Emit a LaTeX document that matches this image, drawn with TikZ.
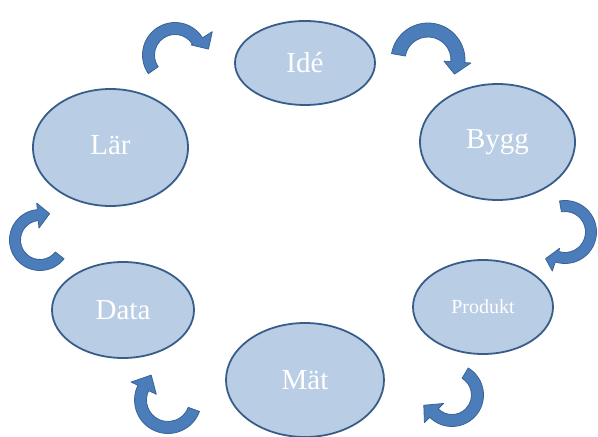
\documentclass[tikz,border=0pt]{standalone}
\usepackage{fontspec}
\setmainfont{Liberation Serif}
\usetikzlibrary{shapes.geometric}
\definecolor{ellfill}{HTML}{B9CDE5}
\definecolor{elldraw}{HTML}{385D8A}
\definecolor{arrfill}{HTML}{4A7DBA}
\definecolor{arrdraw}{HTML}{3A6394}
\tikzset{
  stage/.style={ellipse, draw=elldraw, fill=ellfill, line width=1.8pt, inner sep=0pt,
    text=white, font=\fontsize{29}{32}\selectfont},
  arrowshape/.style={fill=arrfill, draw=arrdraw, line width=0.8pt, line join=round},
}
\newcommand{\blockarc}[8]{%
  \begin{scope}[shift={#1}]
    \filldraw[arrowshape] (#4:#3) arc[start angle=#4, end angle=#5, radius=#3]
      -- (#5:#7) -- #8 -- (#5:#6) -- (#5:#2)
      arc[start angle=#5, end angle=#4, radius=#2] -- cycle;
  \end{scope}}
\begin{document}
\begin{tikzpicture}[x=1pt, y=1pt]
\useasboundingbox (0,0) rectangle (598,437);
% ellipses (y = 437 - image y)
\node[stage, minimum width=140, minimum height=84] (ide) at (305,374) {Idé};
\node[stage, minimum width=155, minimum height=116] (bygg) at (497.5,295) {Bygg};
\node[stage, minimum width=140, minimum height=94, font=\fontsize{20}{24}\selectfont] (produkt) at (483,130) {Produkt};
\node[stage, minimum width=158, minimum height=114] (mat) at (305,57) {Mät};
\node[stage, minimum width=142, minimum height=96] (data) at (123,127) {Data};
\node[stage, minimum width=155, minimum height=117] (lar) at (110.5,289.5) {\raisebox{4pt}{Lär}};
% curved block arrows
\blockarc{(175,382)}{20.5}{32.5}{215}{32}{19}{44}{(10:34)}
\blockarc{(428,377)}{23}{37}{170}{-4}{16}{43}{(-28:30)}
\blockarc{(565,205)}{20.5}{31.5}{100}{-108}{17}{41}{(-126:33)}
\blockarc{(452,42)}{19.5}{31.5}{59}{-135}{12}{39}{(-160:30)}
\blockarc{(168,37)}{21.5}{33.5}{-20}{-206}{13}{41}{(-236:30)}
\blockarc{(40,197)}{19.5}{30.5}{-38}{-265}{12}{37}{(-290:28)}
\end{tikzpicture}
\end{document}
